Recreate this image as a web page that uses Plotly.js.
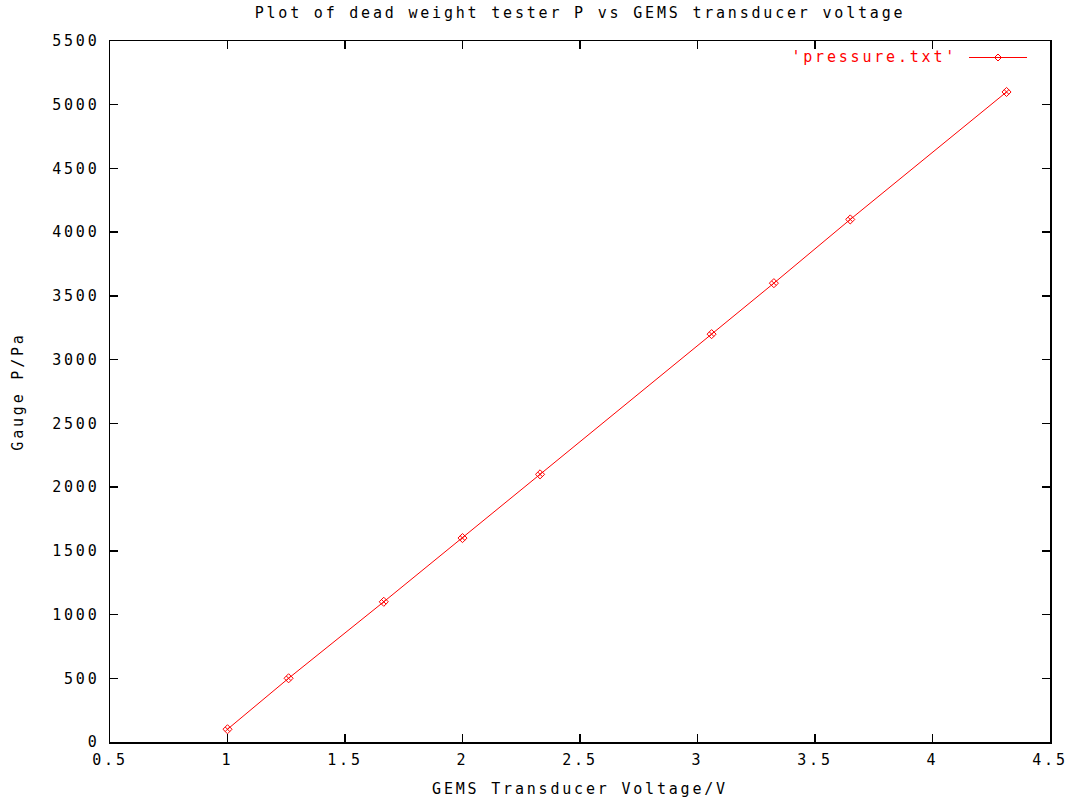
<!DOCTYPE html>
<html>
<head>
<meta charset="utf-8">
<script src="https://cdn.plot.ly/plotly-3.0.1.min.js"></script>
<style>
  html, body { margin: 0; padding: 0; background: #fff; }
  #chart { width: 1076px; height: 798px; }
  #chart svg text { letter-spacing: 2.8px; }
</style>
</head>
<body>
<div id="chart"></div>
<script>
// Data (dead weight tester pressure vs GEMS transducer voltage)
const voltage  = [1.00, 1.26, 1.665, 2.00, 2.33, 3.06, 3.325, 3.65, 4.315];
const pressure = [100, 500, 1100, 1600, 2100, 3200, 3600, 4100, 5100];
const seriesName = "'pressure.txt'";
const titleText = "Plot of dead weight tester P vs GEMS transducer voltage";
const xTitle = "GEMS Transducer Voltage/V";
const yTitle = "Gauge P/Pa";

const FONT = "DejaVu Sans Mono, monospace";
const RED = "#ff0000";

const trace = {
  x: voltage,
  y: pressure,
  type: "scatter",
  mode: "lines+markers",
  name: seriesName,
  line: { color: RED, width: 1 },
  marker: { symbol: "diamond-x-open", size: 7, color: RED, line: { color: RED, width: 1 } },
  showlegend: false,
  hoverinfo: "x+y"
};

// legend sample (gnuplot style: text then line sample) in paper coords
const px = v => (v - 110) / 940;
const py = v => (742 - v) / 701;
const lx0 = px(969), lx1 = px(1027), lxm = px(998);
const ly = py(57.5);
const dx = 3.5 / 940, dy = 3.5 / 701;
const diamondPath = `M ${lxm - dx},${ly} L ${lxm},${ly + dy} L ${lxm + dx},${ly} L ${lxm},${ly - dy} Z`;

const layout = {
  width: 1076,
  height: 798,
  margin: { l: 110, r: 26, t: 41, b: 56 },
  paper_bgcolor: "#fff",
  plot_bgcolor: "#fff",
  font: { family: FONT, size: 15, color: "#000" },
  title: {
    text: titleText,
    font: { family: FONT, size: 15, color: "#000" },
    x: 0.5, xref: "paper", xanchor: "center",
    y: 1 - 13 / 798, yref: "container", yanchor: "middle"
  },
  xaxis: {
    range: [0.5, 4.5],
    dtick: 0.5,
    tick0: 0.5,
    ticks: "inside",
    ticklen: 8,
    tickwidth: 1.5,
    tickcolor: "#000",
    showline: true,
    linecolor: "#000",
    linewidth: 1.5,
    mirror: "ticks",
    showgrid: false,
    zeroline: false,
    ticklabelstandoff: 3,
    tickfont: { family: FONT, size: 15, color: "#000" },
    title: { text: xTitle, font: { family: FONT, size: 15, color: "#000" }, standoff: 18 }
  },
  yaxis: {
    range: [0, 5500],
    dtick: 500,
    tick0: 0,
    ticks: "inside",
    ticklen: 8,
    tickwidth: 1.5,
    tickcolor: "#000",
    showline: true,
    linecolor: "#000",
    linewidth: 1.5,
    mirror: "ticks",
    showgrid: false,
    zeroline: false,
    ticklabelstandoff: 6,
    tickfont: { family: FONT, size: 15, color: "#000" },
    title: { text: yTitle, font: { family: FONT, size: 15, color: "#000" }, standoff: 36 }
  },
  annotations: [{
    text: seriesName,
    xref: "paper", yref: "paper",
    x: px(939), y: ly,
    xanchor: "right", yanchor: "middle",
    showarrow: false,
    font: { family: FONT, size: 15, color: RED }
  }],
  shapes: [
    { type: "line", xref: "paper", yref: "paper", x0: lx0, x1: lx1, y0: ly, y1: ly,
      line: { color: RED, width: 1 } },
    { type: "path", xref: "paper", yref: "paper", path: diamondPath,
      line: { color: RED, width: 1 } }
  ]
};

Plotly.newPlot("chart", [trace], layout, { displayModeBar: false, staticPlot: true });
</script>
</body>
</html>
